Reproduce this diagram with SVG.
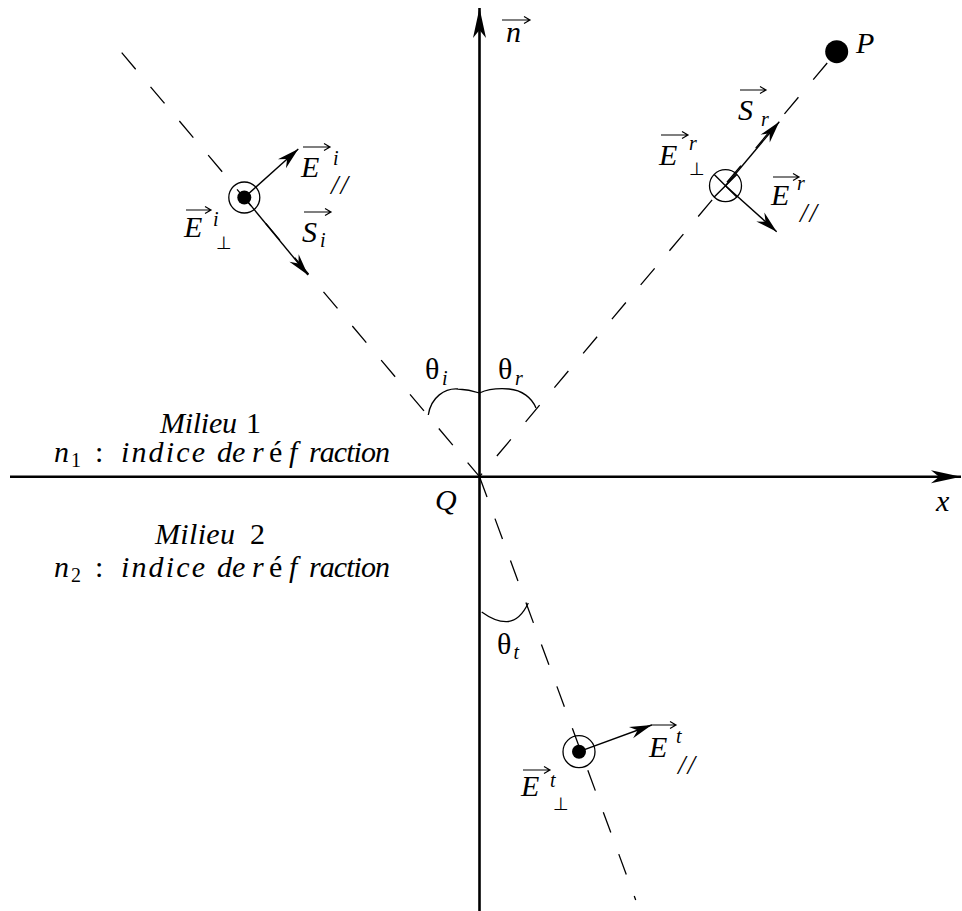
<svg xmlns="http://www.w3.org/2000/svg" width="962" height="911" viewBox="0 0 962 911">
<style>
.ax{stroke:#000;stroke-width:2.6;fill:none}
.ray{stroke:#000;stroke-width:1.3;fill:none;stroke-dasharray:21.7 23}
.vec{stroke:#000;stroke-width:1.4;fill:none}
.ring{stroke:#000;stroke-width:1.3;fill:none}
.arc{stroke:#000;stroke-width:1.3;fill:none}
.ov{stroke:#000;stroke-width:1.2;fill:none}
.m{font-family:"Liberation Serif","Times New Roman",serif;font-style:italic;font-size:30px;fill:#000}
.r{font-family:"Liberation Serif","Times New Roman",serif;font-style:normal;font-size:30px;fill:#000}
.s{font-family:"Liberation Serif","Times New Roman",serif;font-style:italic;font-size:20px;fill:#000}
.sl{font-family:"Liberation Serif","Times New Roman",serif;font-style:italic;font-size:27px;letter-spacing:2px;fill:#000}
.perp{font-family:"DejaVu Sans",sans-serif;font-size:18px;fill:#000}
</style>
<defs>
<marker id="ah" markerUnits="userSpaceOnUse" viewBox="-1 -7 24 14" markerWidth="24" markerHeight="14" refX="22" refY="0" orient="auto">
<path d="M0,-6 L22,0 L0,6 L7,0 Z" fill="#000"/>
</marker>
<marker id="axh" markerUnits="userSpaceOnUse" viewBox="-1 -8 32 16" markerWidth="32" markerHeight="16" refX="30" refY="0" orient="auto">
<path d="M0,-6.5 L30,0 L0,6.5 L8,0 Z" fill="#000"/>
</marker>
</defs>
<rect width="962" height="911" fill="#fff"/>

<g id="connectors">
<line class="ax" x1="479.5" y1="911" x2="479.5" y2="8" marker-end="url(#axh)"/>
<line class="ax" x1="10" y1="476.7" x2="961" y2="476.7" marker-end="url(#axh)"/>
<line class="ray" x1="479.5" y1="476.7" x2="121.7" y2="52.7" stroke-dashoffset="3.3"/>
<line class="ray" x1="479.5" y1="476.7" x2="836.7" y2="51.7" stroke-dashoffset="17.7"/>
<line class="ray" x1="479.5" y1="476.7" x2="635.7" y2="900"/>
</g>

<g id="angle-i">
<path class="arc" d="M428.3,415 C431,397 445,388 458,389 C469,389.5 475,391.5 479.5,393"/>
<text class="r" x="425" y="379">θ</text><text class="s" x="442" y="385">i</text>
</g>
<g id="angle-r">
<path class="arc" d="M479.5,393 C485,390.5 496,388 509,389 C522,390 532,398 536,408"/>
<text class="r" x="498" y="379">θ</text><text class="s" x="515" y="385">r</text>
</g>
<g id="angle-t">
<path class="arc" d="M481.7,612 C490,618 499,622 507,621.7 C517,621 524,612 528.3,603"/>
<text class="r" x="497" y="654">θ</text><text class="s" x="513.5" y="659">t</text>
</g>

<g id="incident">
<circle class="ring" cx="244.3" cy="197.5" r="15.5"/>
<circle cx="244.3" cy="197.5" r="7" fill="#000"/>
<line class="vec" x1="244.3" y1="197.5" x2="298.3" y2="149" marker-end="url(#ah)"/>
<line class="vec" x1="244.3" y1="197.5" x2="308" y2="275" marker-end="url(#ah)"/>
<g id="label-Epar-i">
<path class="ov" d="M303,147 H330 M324,143.5 L330,147 L324,150.5"/>
<text class="m" x="301" y="177">E</text><text class="s" x="333" y="165">i</text><text class="sl" x="331" y="194">//</text>
</g>
<g id="label-Eperp-i">
<path class="ov" d="M186,210 H211 M205,206.5 L211,210 L205,213.5"/>
<text class="m" x="184" y="237">E</text><text class="s" x="213" y="226">i</text><text class="perp" x="216" y="249">⊥</text>
</g>
<g id="label-S-i">
<path class="ov" d="M304,212 H331 M325,208.5 L331,212 L325,215.5"/>
<text class="m" x="302" y="242">S</text><text class="s" x="320" y="247">i</text>
</g>
</g>

<g id="reflected">
<circle class="ring" cx="725.5" cy="185.7" r="16"/>
<path class="vec" d="M714.2,174.4 L736.8,197 M736.8,174.4 L714.2,197"/>
<line class="vec" x1="725.5" y1="185.7" x2="779.3" y2="121.7" marker-end="url(#ah)"/>
<line class="vec" x1="725.5" y1="185.7" x2="776.7" y2="231.7" marker-end="url(#ah)"/>
<g id="label-S-r">
<path class="ov" d="M740,90 H766 M760,86.5 L766,90 L760,93.5"/>
<text class="m" x="738" y="120">S</text><text class="s" x="761" y="126">r</text>
</g>
<g id="label-Eperp-r">
<path class="ov" d="M661,135 H688 M682,131.5 L688,135 L682,138.5"/>
<text class="m" x="659" y="165">E</text><text class="s" x="689" y="150">r</text><text class="perp" x="689" y="175">⊥</text>
</g>
<g id="label-Epar-r">
<path class="ov" d="M773,177 H799 M793,173.5 L799,177 L793,180.5"/>
<text class="m" x="771" y="205">E</text><text class="s" x="797" y="190">r</text><text class="sl" x="800" y="222">//</text>
</g>
</g>

<g id="transmitted">
<circle class="ring" cx="579" cy="751.7" r="16"/>
<circle cx="579" cy="751.7" r="7" fill="#000"/>
<line class="vec" x1="579" y1="751.7" x2="651.7" y2="725" marker-end="url(#ah)"/>
<g id="label-Epar-t">
<path class="ov" d="M651,725 H676 M670,721.5 L676,725 L670,728.5"/>
<text class="m" x="649" y="757">E</text><text class="s" x="676" y="743">t</text><text class="sl" x="678" y="774">//</text>
</g>
<g id="label-Eperp-t">
<path class="ov" d="M523,770 H550 M544,766.5 L550,770 L544,773.5"/>
<text class="m" x="521" y="796">E</text><text class="s" x="550" y="787">t</text><text class="perp" x="553" y="810">⊥</text>
</g>
</g>

<g id="point-P">
<circle cx="836.7" cy="51.7" r="11.5" fill="#000"/>
<text class="m" x="856" y="53">P</text>
</g>

<g id="axis-labels">
<path class="ov" d="M502,20 H530 M524,16.5 L530,20 L524,23.5"/>
<text class="m" x="506" y="42">n</text>
<text class="m" x="435" y="510">Q</text>
<text class="m" x="936" y="510.7">x</text>
</g>

<g id="milieu1">
<text class="m" x="160" y="433" textLength="77" lengthAdjust="spacing">Milieu</text>
<text class="r" x="246" y="433">1</text>
<text class="m" x="54" y="462">n</text><text class="r" x="71" y="467" style="font-size:20px">1</text>
<text class="r" x="95" y="462">:</text>
<text class="m" x="121" y="462" textLength="84" lengthAdjust="spacing">indice</text>
<text class="m" x="217" y="462">de</text>
<text class="m" x="252" y="462">r</text>
<text class="r" x="269" y="462">é</text>
<text class="m" x="289" y="462">f</text>
<text class="m" x="309" y="462" textLength="81" lengthAdjust="spacing">raction</text>
</g>

<g id="milieu2">
<text class="m" x="155" y="544" textLength="80" lengthAdjust="spacing">Milieu</text>
<text class="r" x="250" y="544">2</text>
<text class="m" x="54" y="577">n</text><text class="r" x="71" y="582" style="font-size:20px">2</text>
<text class="r" x="95" y="577">:</text>
<text class="m" x="121" y="577" textLength="84" lengthAdjust="spacing">indice</text>
<text class="m" x="217" y="577">de</text>
<text class="m" x="252" y="577">r</text>
<text class="r" x="269" y="577">é</text>
<text class="m" x="289" y="577">f</text>
<text class="m" x="309" y="577" textLength="81" lengthAdjust="spacing">raction</text>
</g>
</svg>
